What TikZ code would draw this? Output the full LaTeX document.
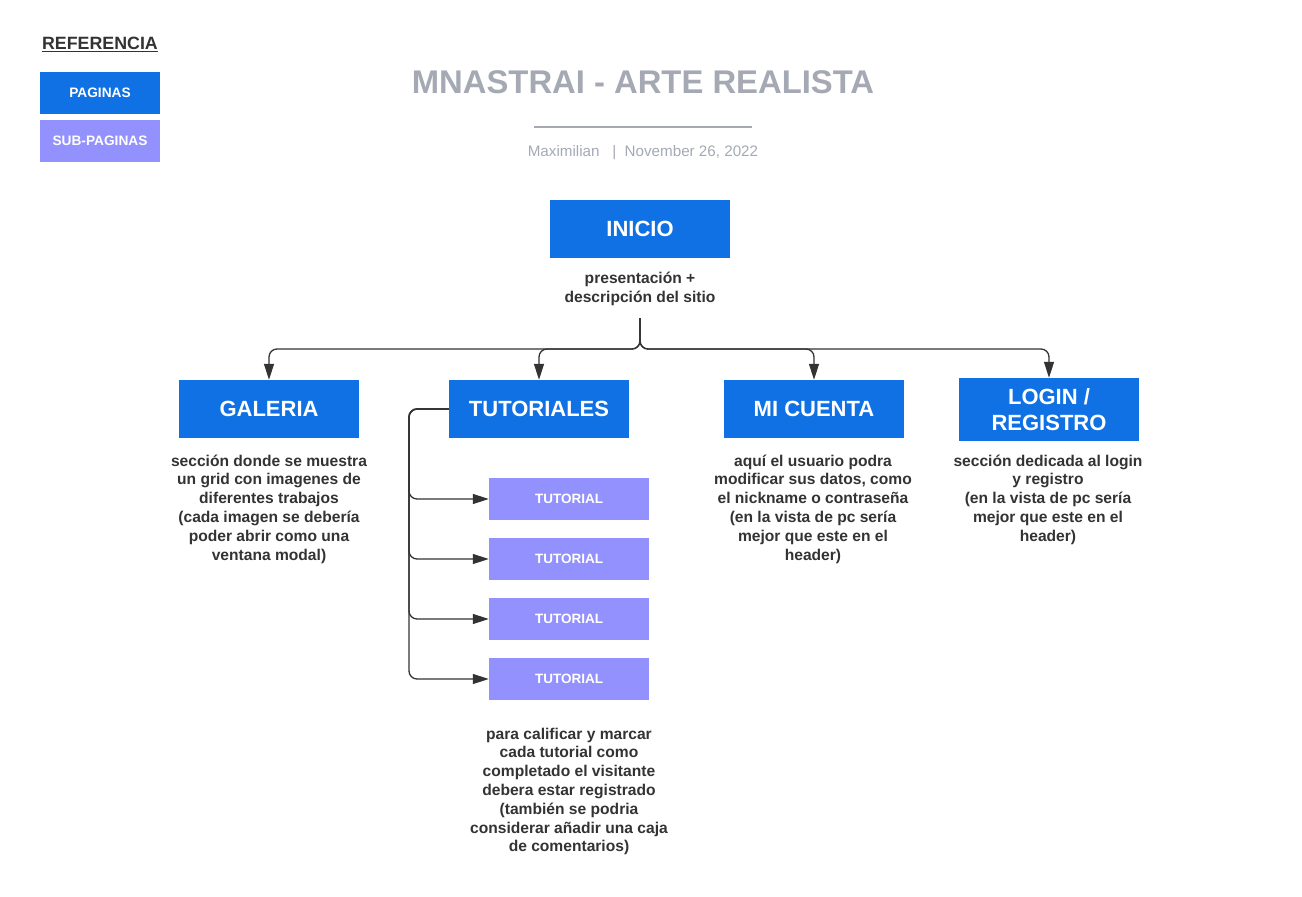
\documentclass[tikz,border=0pt]{standalone}
\usepackage{fontspec}
\setmainfont{Liberation Sans}
\usepackage{tikz}
\usetikzlibrary{arrows.meta,positioning}
\definecolor{pageblue}{HTML}{1071E5}
\definecolor{subpage}{HTML}{9391FD}
\definecolor{inkdark}{HTML}{333333}
\definecolor{titlegray}{HTML}{A4A9B4}
\tikzset{>={Triangle[length=16pt,width=10pt]}}

\begin{document}
\begin{tikzpicture}[x=1pt,y=-1pt,
                    page/.style={fill=pageblue, text=white, minimum width=180, minimum height=58,
                                 inner sep=0, align=center, font=\fontsize{22}{27}\selectfont\bfseries},
                    subpage/.style={fill=subpage, text=white, minimum width=160, minimum height=42,
                                    inner sep=0, font=\fontsize{13.5}{15}\selectfont\bfseries},
                    note/.style={text=inkdark, align=center, inner sep=0,
                                 font=\fontsize{15.6}{18.8}\selectfont\bfseries},
                    conn/.style={inkdark, line width=1.3pt, rounded corners=8, ->},
                   ]

\useasboundingbox (0,0) rectangle (1302,897);

% legend
\node[text=inkdark, font=\fontsize{17.8}{20}\selectfont\bfseries] (ref) at (100,44) {\underline{REFERENCIA}};
\node[page, minimum width=120, minimum height=42, font=\fontsize{13.7}{15}\selectfont\bfseries] (legpage) at (100,93) {PAGINAS};
\node[subpage, minimum width=120, font=\fontsize{13.7}{15}\selectfont\bfseries] (legsub) at (100,141) {SUB-PAGINAS};

% header
\node[text=titlegray, font=\fontsize{32.8}{36}\selectfont\bfseries] (title) at (643,82) {MNASTRAI - ARTE REALISTA};
\draw[titlegray, line width=1.6pt] (534,127) -- (752,127);
\node[text=titlegray, font=\fontsize{15.2}{17}\selectfont] (author) at (643,152.5) {Maximilian \ \ | \ November 26, 2022};

% main pages
\node[page] (inicio) at (640,229) {INICIO};
\node[note] (iniciotxt) at (640,288.5) {presentación +\\descripción del sitio};
\node[page] (galeria) at (269,409) {GALERIA};
\node[page] (tutoriales) at (539,409) {TUTORIALES};
\node[page] (cuenta) at (814,409) {MI CUENTA};
\node[page, minimum height=63] (login) at (1049,409.5) {LOGIN /\\[-1.5pt]REGISTRO};

\coordinate (root) at (640,318);
\coordinate (split) at (640,349);
\draw[conn] (root) -- (split) -| (galeria.north);
\draw[conn] (root) -- (split) -| (tutoriales.north);
\draw[conn] (root) -- (split) -| (cuenta.north);
\draw[conn] (root) -- (split) -| (login.north);

% sub-pages
\node[subpage] (tut1) at (569,499) {TUTORIAL};
\node[subpage] (tut2) at (569,559) {TUTORIAL};
\node[subpage] (tut3) at (569,619) {TUTORIAL};
\node[subpage] (tut4) at (569,679) {TUTORIAL};

\coordinate (bus) at (409,409);
\foreach \t in {tut1,tut2,tut3,tut4}
  \draw[conn] (tutoriales.west) -- (bus) |- (\t.west);

% descriptions
\node[note] (galeriatxt) at (269,509) {sección donde se muestra\\un grid con imagenes de\\diferentes trabajos\\(cada imagen se debería\\poder abrir como una\\ventana modal)};
\node[note] (tutorialestxt) at (569,791.5) {para calificar y marcar\\cada tutorial como\\completado el visitante\\debera estar registrado\\(también se podria\\considerar añadir una caja\\de comentarios)};
\node[note] (cuentatxt) at (813,509) {aquí el usuario podra\\modificar sus datos, como\\el nickname o contraseña\\(en la vista de pc sería\\mejor que este en el\\header)};
\node[note] (logintxt) at (1048,499.5) {sección dedicada al login\\y registro\\(en la vista de pc sería\\mejor que este en el\\header)};

\end{tikzpicture}
\end{document}
